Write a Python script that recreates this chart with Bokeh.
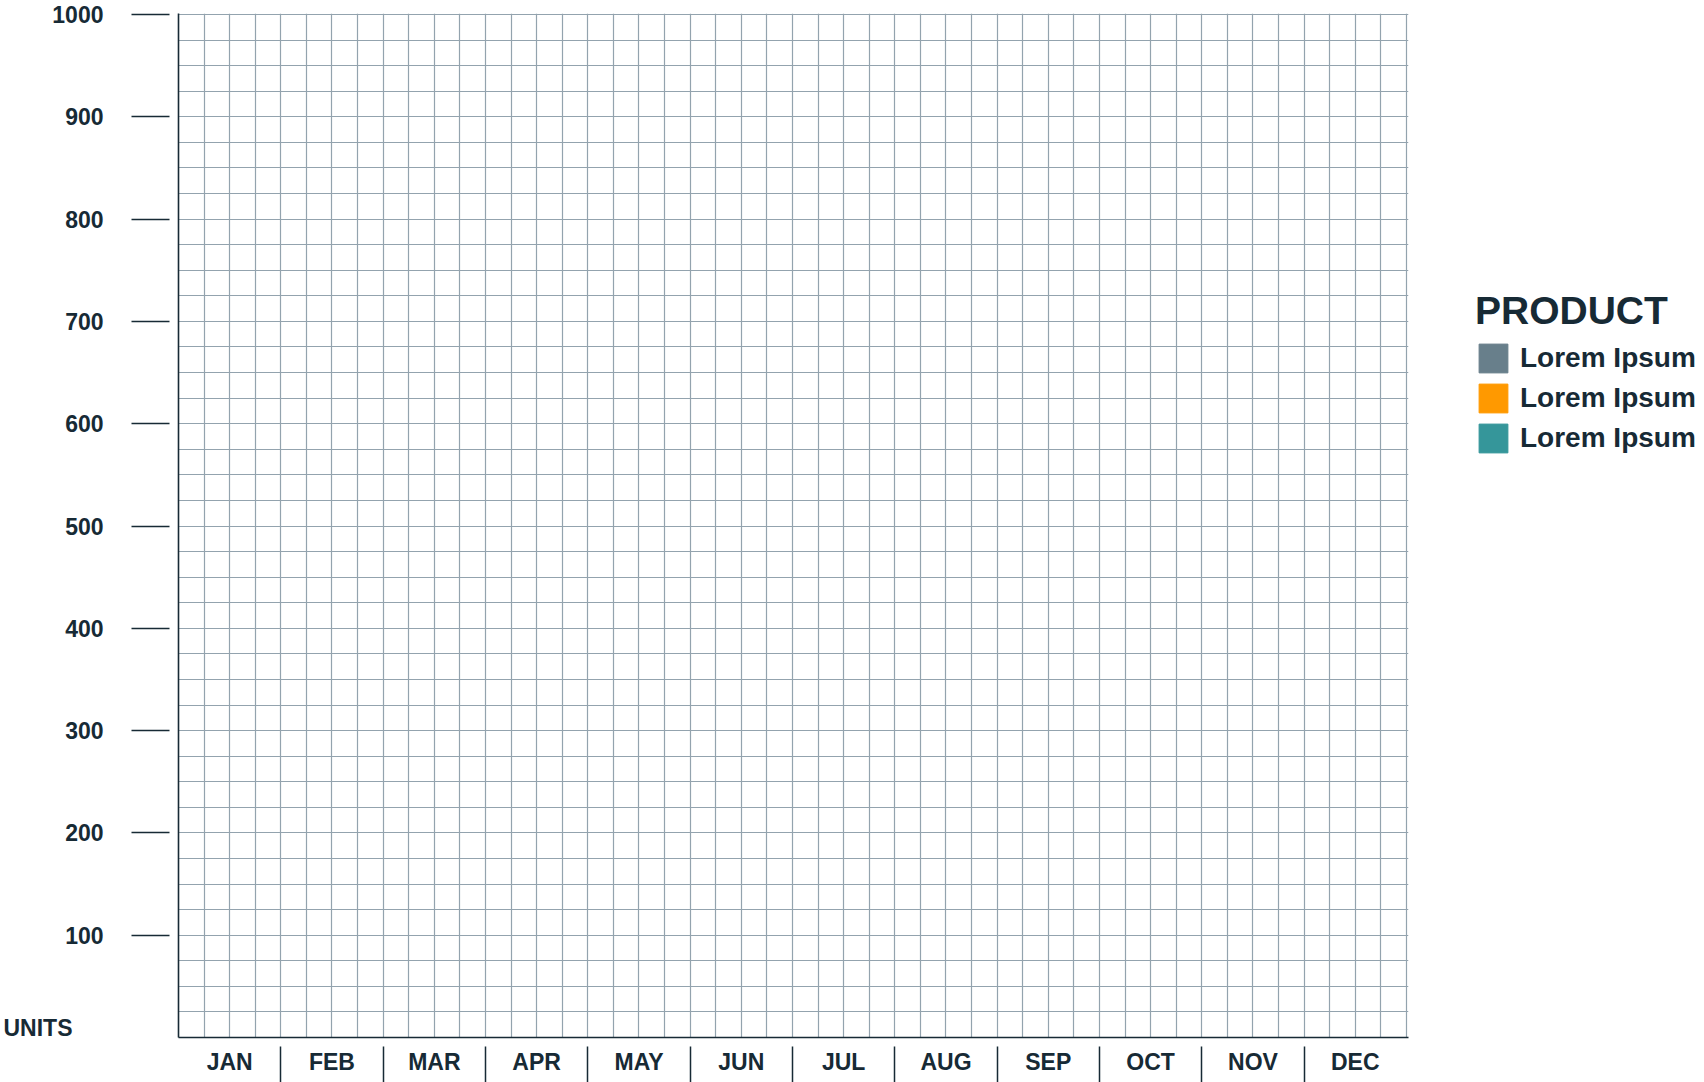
import numpy as np
from bokeh.plotting import figure
from bokeh.layouts import row
from bokeh.models import (Range1d, LinearAxis, FixedTicker, Grid, Legend,
                          LegendItem, ColumnDataSource)
from bokeh.embed import file_html
from bokeh.resources import INLINE

# ---- chart content ----
months = ["JAN", "FEB", "MAR", "APR", "MAY", "JUN",
          "JUL", "AUG", "SEP", "OCT", "NOV", "DEC"]
y_ticks = [100, 200, 300, 400, 500, 600, 700, 800, 900, 1000]
series_names = ["Lorem Ipsum", "Lorem Ipsum", "Lorem Ipsum"]
series_colors = ["#687f8b", "#ff9900", "#35969a"]
# the template chart holds no bars yet: every month is empty
series_values = [[None] * 12, [None] * 12, [None] * 12]
legend_title = "PRODUCT"
y_axis_title = "UNITS"
y_axis_title_at = 9        # the title sits just above the baseline
y_max = 1000

# ---- styling ----
DARK = "#172a35"
GRID = "#93a3ae"
FONT = "Liberation Sans"
TICK_FONT = "23px"

n = len(months)
p = figure(width=1410, height=1082,
           x_range=Range1d(0, n + 0.02), y_range=Range1d(0, y_max + 1),
           x_axis_type=None, y_axis_type=None,
           toolbar_location=None, output_backend="svg",
           min_border_left=178, min_border_right=2,
           min_border_top=13, min_border_bottom=45)
p.outline_line_color = None
p.background_fill_color = "white"
p.border_fill_color = "white"

# fine grid: 4 cells per month, 4 cells per 100 units
p.add_layout(Grid(dimension=0, ticker=FixedTicker(ticks=list(np.arange(0, n + 0.001, 0.25))),
                  grid_line_color=GRID, grid_line_width=1.2))
p.add_layout(Grid(dimension=1, ticker=FixedTicker(ticks=list(np.arange(0, y_max + 0.1, 25))),
                  grid_line_color=GRID, grid_line_width=1.2))

# ---- y axis: dark line, detached tick marks, labels ----
yax = LinearAxis(ticker=FixedTicker(ticks=y_ticks), axis_line_color=DARK, axis_line_width=1.6,
                 major_tick_out=47, major_tick_in=-9, major_tick_line_color=DARK,
                 major_tick_line_width=1.5, minor_tick_line_color=None,
                 major_label_standoff=28, major_label_text_font=FONT,
                 major_label_text_font_style="bold", major_label_text_font_size=TICK_FONT,
                 major_label_text_color=DARK)
p.add_layout(yax, "left")

# outer left axis carrying only the "UNITS" title near the baseline
yunits = LinearAxis(ticker=FixedTicker(ticks=[y_axis_title_at]), axis_line_color=None,
                    major_tick_out=0, major_tick_in=0, major_tick_line_color=None,
                    minor_tick_line_color=None,
                    major_label_overrides={y_axis_title_at: y_axis_title},
                    major_label_standoff=-23, major_label_text_font=FONT,
                    major_label_text_font_style="bold", major_label_text_font_size=TICK_FONT,
                    major_label_text_color=DARK)
p.add_layout(yunits, "left")

# ---- x axis: month names centred, separators between months ----
centers = [i + 0.5 for i in range(n)]
bounds = [float(i) for i in range(1, n)]
xax = LinearAxis(ticker=FixedTicker(ticks=centers, minor_ticks=bounds),
                 axis_line_color=DARK, axis_line_width=1.6,
                 major_tick_out=0, major_tick_in=0, major_tick_line_color=None,
                 minor_tick_out=45, minor_tick_in=-9, minor_tick_line_color=DARK,
                 minor_tick_line_width=1.5,
                 major_label_overrides={c: m for c, m in zip(centers, months)},
                 major_label_standoff=-34, major_label_text_font=FONT,
                 major_label_text_font_style="bold", major_label_text_font_size=TICK_FONT,
                 major_label_text_color=DARK)
p.add_layout(xax, "below")

# ---- legend panel with the (empty) series ----
lf = figure(width=294, height=1082, x_range=p.x_range, y_range=p.y_range,
            x_axis_type=None, y_axis_type=None,
            toolbar_location=None, output_backend="svg", min_border=0)
lf.outline_line_color = None
lf.background_fill_color = "white"
lf.border_fill_color = "white"

items = []
for name, color, vals in zip(series_names, series_colors, series_values):
    src = ColumnDataSource(dict(x=centers, top=np.array(vals, dtype=float)))
    r = lf.vbar(x="x", top="top", width=0.6, source=src, fill_color=color, line_color=color)
    items.append(LegendItem(label=name, renderers=[r]))

legend = Legend(items=items, title=legend_title, location=(65, 581),
                orientation="vertical", glyph_width=36, glyph_height=36,
                label_height=36, label_standoff=9, spacing=4, padding=0, margin=0,
                border_line_color=None, background_fill_alpha=0,
                title_text_font=FONT, title_text_font_style="bold",
                title_text_font_size="39px", title_text_color=DARK, title_standoff=7,
                label_text_font=FONT, label_text_font_style="bold",
                label_text_font_size="28px", label_text_color=DARK)
lf.add_layout(legend, "center")

layout = row(p, lf, spacing=0)
open("out.html", "w").write(file_html(layout, INLINE))
